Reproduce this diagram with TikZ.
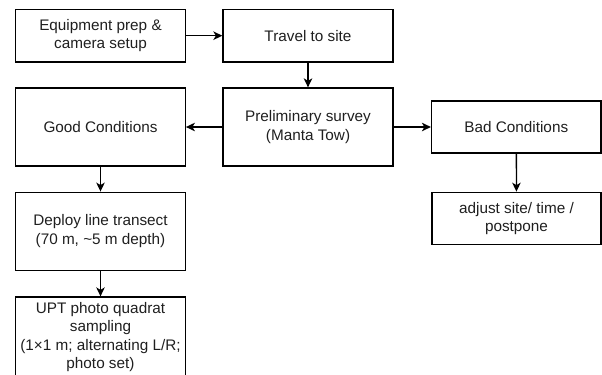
\documentclass[tikz,border=0pt]{standalone}
\usepackage{fontspec}
\setmainfont{Liberation Sans}
\usetikzlibrary{arrows.meta}
\begin{document}
\begin{tikzpicture}[x=1bp,y=-1bp,
  box/.style={draw, line width=1.3bp, align=center, inner sep=0pt,
    font=\fontsize{15.3bp}{18.5bp}\selectfont, text=black!88},
  conn/.style={line width=1.3bp, -{Stealth[length=9bp,width=8.5bp,inset=2.5bp]}}]
\useasboundingbox (0,0) rectangle (602,374);
\node[box, minimum width=169.5bp, minimum height=52.7bp] (prep) at (100.5,35.7) {Equipment prep \&\\camera setup};
\node[box, minimum width=170bp, minimum height=52.7bp] (travel) at (308,35.7) {Travel to site};
\node[box, minimum width=169.5bp, minimum height=78bp] (good) at (100.5,127) {Good Conditions};
\node[box, minimum width=170bp, minimum height=78bp] (prelim) at (308,127) {Preliminary survey\\(Manta Tow)};
\node[box, minimum width=169.5bp, minimum height=52bp] (bad) at (516.3,127) {Bad Conditions};
\node[box, minimum width=169bp, minimum height=52bp] (adjust) at (516.5,218.3) {adjust site/ time /\\postpone};
\node[box, minimum width=169.5bp, minimum height=78bp] (deploy) at (100.5,231.2) {Deploy line transect\\(70 m, \textasciitilde 5 m depth)};
\node[box, minimum width=169.5bp, minimum height=80bp] (upt) at (100.5,337) {UPT photo quadrat\\sampling\\(1×1 m; alternating L/R;\\photo set)};
\draw[conn] (prep) -- (travel);
\draw[conn] (travel) -- (prelim);
\draw[conn] (prelim) -- (good);
\draw[conn] (prelim) -- (bad);
\draw[conn] (good) -- (deploy);
\draw[conn] (deploy) -- (upt);
\draw[conn] (bad) -- (adjust);
\end{tikzpicture}
\end{document}
